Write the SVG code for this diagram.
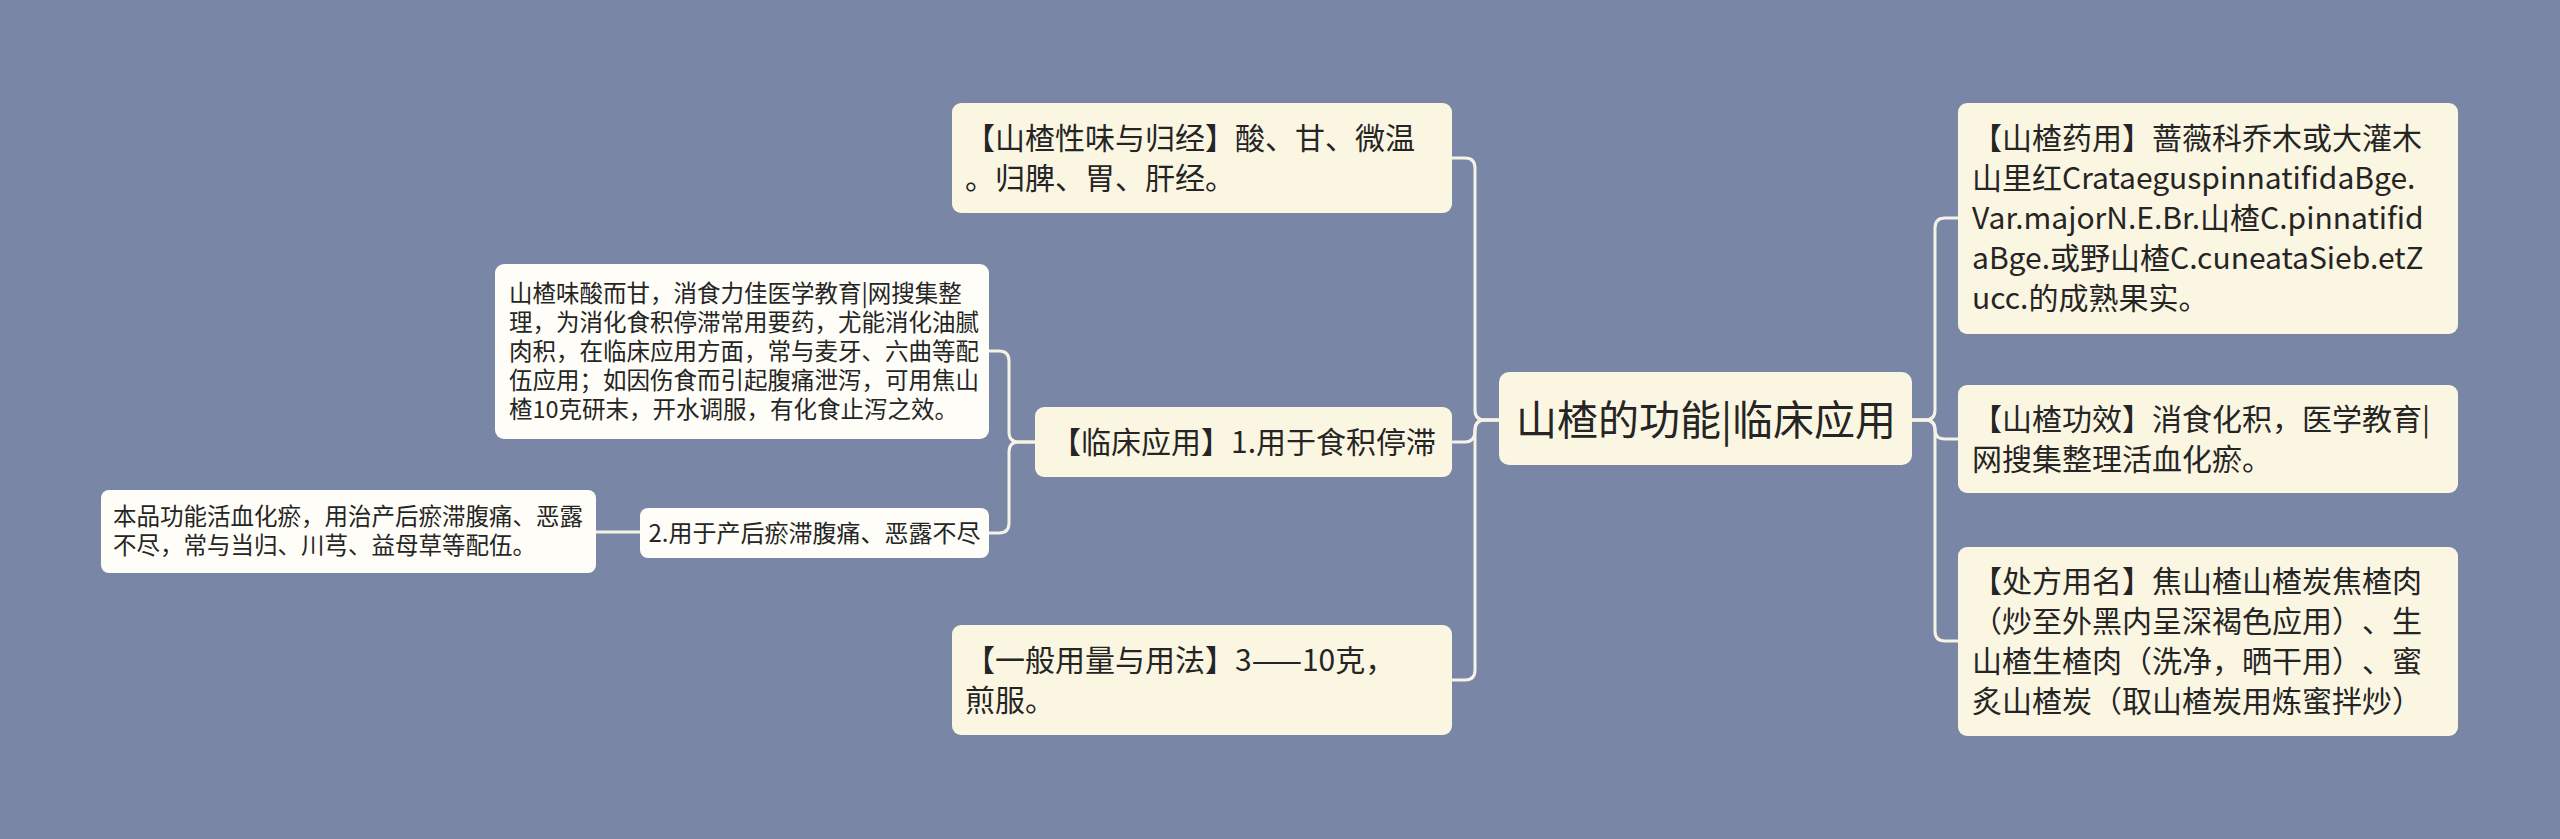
<svg xmlns="http://www.w3.org/2000/svg" width="2560" height="839" viewBox="0 0 2560 839">
<style>
.bg{fill:#7986A6}
.n2{fill:#FBF6E2}
.n3{fill:#FEFDF7}
.c{fill:none;stroke:#F6F3E6;stroke-width:3;stroke-linecap:round}
text{font-family:"Noto Sans CJK SC","Noto Sans",sans-serif;fill:#252525;text-spacing-trim:space-all}
.f30{font-size:30px}
.f24{font-size:23.5px}
.f25{font-size:24px}
.f44{font-size:41px}
.m{text-anchor:middle}
</style>
<rect class="bg" x="0" y="0" width="2560" height="839"/>
<g id="connectors">
<path class="c" d="M1499,420 H1485 Q1475,420 1475,410 V168 Q1475,158 1465,158 H1452"/>
<path class="c" d="M1499,420 H1485 Q1475,420 1475,430 Q1475,442 1465,442 H1453"/>
<path class="c" d="M1499,420 H1485 Q1475,420 1475,430 V670 Q1475,680 1465,680 H1452"/>
<path class="c" d="M1912,420 H1925 Q1935,420 1935,410 V228 Q1935,218 1945,218 H1958"/>
<path class="c" d="M1912,420 H1925 Q1935,420 1935,429.5 Q1935,439 1945,439 H1958"/>
<path class="c" d="M1912,420 H1925 Q1935,420 1935,430 V631 Q1935,641 1945,641 H1958"/>
<path class="c" d="M1035,442 H1019 Q1009,442 1009,432 V361 Q1009,351 999,351 H989"/>
<path class="c" d="M1035,442 H1019 Q1009,442 1009,452 V523 Q1009,533 999,533 H989"/>
<path class="c" d="M640,532 H596"/>
</g>
<g id="center">
<rect class="n2" x="1499" y="372" width="413" height="93" rx="10"/>
<text class="f44 m" x="1706" y="435">山楂的功能|临床应用</text>
</g>
<g id="xingwei">
<rect class="n2" x="952" y="103" width="500" height="110" rx="9"/>
<text class="f30" x="965"><tspan x="965" y="149">【山楂性味与归经】酸、甘、微温</tspan><tspan x="965" y="189">。归脾、胃、肝经。</tspan></text>
</g>
<g id="linchuang">
<rect class="n2" x="1035" y="407" width="417" height="70" rx="9"/>
<text class="f30 m" x="1243.5" y="453">【临床应用】1.用于食积停滞</text>
</g>
<g id="yongliang">
<rect class="n2" x="952" y="625" width="500" height="110" rx="9"/>
<text class="f30" x="965"><tspan x="965" y="671">【一般用量与用法】3——10克，</tspan><tspan x="965" y="711">煎服。</tspan></text>
</g>
<g id="shixiao">
<rect class="n3" x="495" y="264" width="494" height="175" rx="9"/>
<text class="f24" x="509"><tspan x="509" y="302">山楂味酸而甘，消食力佳医学教育|网搜集整</tspan><tspan x="509" y="331">理，为消化食积停滞常用要药，尤能消化油腻</tspan><tspan x="509" y="360">肉积，在临床应用方面，常与麦牙、六曲等配</tspan><tspan x="509" y="389">伍应用；如因伤食而引起腹痛泄泻，可用焦山</tspan><tspan x="509" y="418">楂10克研末，开水调服，有化食止泻之效。</tspan></text>
</g>
<g id="chanhou">
<rect class="n3" x="640" y="508" width="349" height="50" rx="8"/>
<text class="f25 m" x="814.5" y="541.5">2.用于产后瘀滞腹痛、恶露不尽</text>
</g>
<g id="huoxue">
<rect class="n3" x="101" y="490" width="495" height="83" rx="8"/>
<text class="f24" x="113"><tspan x="113" y="525">本品功能活血化瘀，用治产后瘀滞腹痛、恶露</tspan><tspan x="113" y="554">不尽，常与当归、川芎、益母草等配伍。</tspan></text>
</g>
<g id="yaoyong">
<rect class="n2" x="1958" y="103" width="500" height="231" rx="9"/>
<text class="f30" x="1972"><tspan x="1972" y="149">【山楂药用】蔷薇科乔木或大灌木</tspan><tspan x="1972" y="189">山里红CrataeguspinnatifidaBge.</tspan><tspan x="1972" y="229">Var.majorN.E.Br.山楂C.pinnatifid</tspan><tspan x="1972" y="269">aBge.或野山楂C.cuneataSieb.etZ</tspan><tspan x="1972" y="309">ucc.的成熟果实。</tspan></text>
</g>
<g id="gongxiao">
<rect class="n2" x="1958" y="385" width="500" height="108" rx="9"/>
<text class="f30" x="1972"><tspan x="1972" y="430">【山楂功效】消食化积，医学教育|</tspan><tspan x="1972" y="470">网搜集整理活血化瘀。</tspan></text>
</g>
<g id="chufang">
<rect class="n2" x="1958" y="547" width="500" height="189" rx="9"/>
<text class="f30" x="1972"><tspan x="1972" y="592">【处方用名】焦山楂山楂炭焦楂肉</tspan><tspan x="1972" y="632">（炒至外黑内呈深褐色应用）、生</tspan><tspan x="1972" y="672">山楂生楂肉（洗净，晒干用）、蜜</tspan><tspan x="1972" y="712">炙山楂炭（取山楂炭用炼蜜拌炒）</tspan></text>
</g>
</svg>
